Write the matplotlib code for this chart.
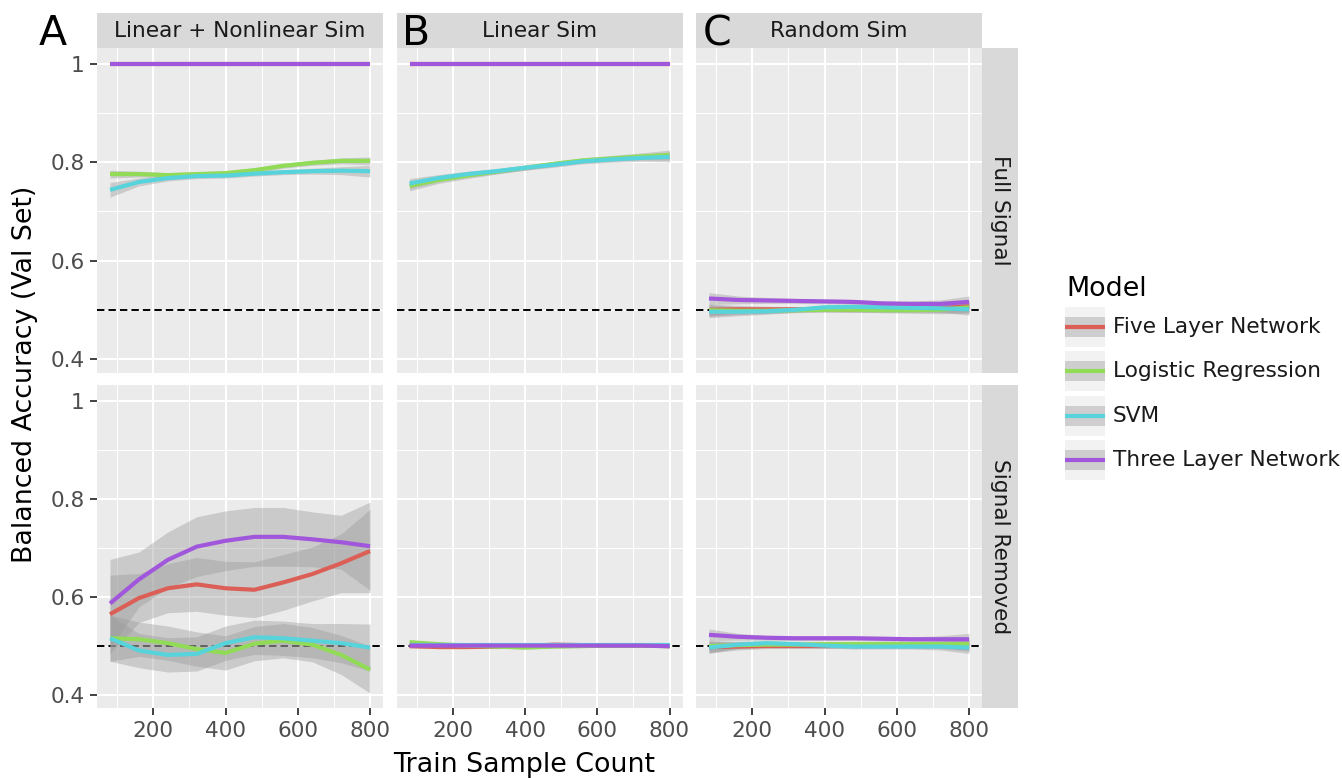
import numpy as np
import matplotlib.pyplot as plt
from matplotlib.patches import Rectangle

plt.rcParams['font.family'] = 'DejaVu Sans'

## DATA ##
train_n = [80, 160, 240, 320, 400, 480, 560, 640, 720, 800]
models = ["Five Layer Network", "Logistic Regression", "SVM", "Three Layer Network"]
colors = ["#DB5F57", "#91DB57", "#57D3DB", "#A157DB"]
sims = ["Linear + Nonlinear Sim", "Linear Sim", "Random Sim"]
signals = ["Full Signal", "Signal Removed"]
panel_tags = ["A", "B", "C"]

# Full Signal rows (mean accuracy per model, then ribbon half width)
full_linnon = {
    "Five Layer Network": [1.0, 1.0, 1.0, 1.0, 1.0, 1.0, 1.0, 1.0, 1.0, 1.0],
    "Logistic Regression": [0.776, 0.776, 0.774, 0.776, 0.778, 0.784, 0.793, 0.799, 0.803, 0.803],
    "SVM": [0.744, 0.760, 0.768, 0.772, 0.773, 0.777, 0.780, 0.782, 0.783, 0.782],
    "Three Layer Network": [1.0, 1.0, 1.0, 1.0, 1.0, 1.0, 1.0, 1.0, 1.0, 1.0],
}
full_linnon_se = {
    "Five Layer Network": [0, 0, 0, 0, 0, 0, 0, 0, 0, 0],
    "Logistic Regression": [0.008, 0.006, 0.005, 0.005, 0.005, 0.005, 0.005, 0.005, 0.006, 0.008],
    "SVM": [0.015, 0.008, 0.006, 0.005, 0.005, 0.005, 0.005, 0.006, 0.008, 0.012],
    "Three Layer Network": [0, 0, 0, 0, 0, 0, 0, 0, 0, 0],
}

full_lin = {
    "Five Layer Network": [1.0, 1.0, 1.0, 1.0, 1.0, 1.0, 1.0, 1.0, 1.0, 1.0],
    "Logistic Regression": [0.752, 0.764, 0.773, 0.781, 0.789, 0.797, 0.804, 0.808, 0.812, 0.815],
    "SVM": [0.757, 0.768, 0.776, 0.782, 0.789, 0.795, 0.802, 0.806, 0.809, 0.811],
    "Three Layer Network": [1.0, 1.0, 1.0, 1.0, 1.0, 1.0, 1.0, 1.0, 1.0, 1.0],
}
full_lin_se = {
    "Five Layer Network": [0, 0, 0, 0, 0, 0, 0, 0, 0, 0],
    "Logistic Regression": [0.010, 0.007, 0.006, 0.005, 0.005, 0.005, 0.005, 0.006, 0.007, 0.010],
    "SVM": [0.010, 0.007, 0.006, 0.005, 0.005, 0.005, 0.005, 0.006, 0.007, 0.010],
    "Three Layer Network": [0, 0, 0, 0, 0, 0, 0, 0, 0, 0],
}

full_rand = {
    "Five Layer Network": [0.500, 0.501, 0.501, 0.501, 0.501, 0.500, 0.500, 0.501, 0.503, 0.507],
    "Logistic Regression": [0.499, 0.498, 0.498, 0.499, 0.500, 0.500, 0.499, 0.499, 0.500, 0.505],
    "SVM": [0.496, 0.496, 0.497, 0.500, 0.505, 0.506, 0.505, 0.504, 0.503, 0.501],
    "Three Layer Network": [0.523, 0.520, 0.519, 0.518, 0.517, 0.516, 0.513, 0.512, 0.512, 0.516],
}
full_rand_se = {
    "Five Layer Network": [0.012, 0.008, 0.006, 0.005, 0.005, 0.005, 0.005, 0.006, 0.008, 0.012],
    "Logistic Regression": [0.012, 0.008, 0.006, 0.005, 0.005, 0.005, 0.005, 0.006, 0.008, 0.012],
    "SVM": [0.012, 0.008, 0.006, 0.005, 0.005, 0.005, 0.005, 0.006, 0.008, 0.012],
    "Three Layer Network": [0.012, 0.008, 0.006, 0.005, 0.005, 0.005, 0.005, 0.006, 0.008, 0.012],
}

# Signal Removed rows
rem_linnon = {
    "Five Layer Network": [0.564, 0.597, 0.617, 0.625, 0.617, 0.614, 0.629, 0.646, 0.668, 0.693],
    "Logistic Regression": [0.515, 0.513, 0.505, 0.493, 0.485, 0.504, 0.510, 0.502, 0.481, 0.451],
    "SVM": [0.515, 0.490, 0.481, 0.483, 0.505, 0.517, 0.515, 0.510, 0.505, 0.496],
    "Three Layer Network": [0.586, 0.635, 0.675, 0.702, 0.714, 0.722, 0.722, 0.717, 0.711, 0.703],
}
rem_linnon_se = {
    "Five Layer Network": [0.080, 0.050, 0.050, 0.055, 0.055, 0.057, 0.057, 0.055, 0.060, 0.085],
    "Logistic Regression": [0.047, 0.035, 0.035, 0.035, 0.035, 0.035, 0.035, 0.035, 0.040, 0.048],
    "SVM": [0.047, 0.035, 0.035, 0.035, 0.035, 0.035, 0.035, 0.035, 0.040, 0.048],
    "Three Layer Network": [0.090, 0.056, 0.057, 0.061, 0.061, 0.060, 0.060, 0.056, 0.055, 0.090],
}

rem_lin = {
    "Five Layer Network": [0.499, 0.497, 0.497, 0.498, 0.499, 0.502, 0.501, 0.500, 0.500, 0.499],
    "Logistic Regression": [0.507, 0.503, 0.500, 0.498, 0.496, 0.498, 0.499, 0.500, 0.500, 0.500],
    "SVM": [0.501, 0.501, 0.501, 0.501, 0.501, 0.501, 0.501, 0.501, 0.501, 0.501],
    "Three Layer Network": [0.500, 0.500, 0.500, 0.500, 0.500, 0.500, 0.500, 0.500, 0.500, 0.499],
}
rem_lin_se = {
    "Five Layer Network": [0.004, 0.003, 0.003, 0.003, 0.003, 0.003, 0.003, 0.003, 0.003, 0.004],
    "Logistic Regression": [0.004, 0.003, 0.003, 0.003, 0.003, 0.003, 0.003, 0.003, 0.003, 0.004],
    "SVM": [0.004, 0.003, 0.003, 0.003, 0.003, 0.003, 0.003, 0.003, 0.003, 0.004],
    "Three Layer Network": [0.004, 0.003, 0.003, 0.003, 0.003, 0.003, 0.003, 0.003, 0.003, 0.004],
}

rem_rand = {
    "Five Layer Network": [0.497, 0.498, 0.499, 0.499, 0.499, 0.500, 0.500, 0.500, 0.501, 0.501],
    "Logistic Regression": [0.499, 0.501, 0.502, 0.502, 0.503, 0.503, 0.503, 0.503, 0.503, 0.503],
    "SVM": [0.496, 0.502, 0.505, 0.503, 0.500, 0.498, 0.498, 0.498, 0.498, 0.496],
    "Three Layer Network": [0.522, 0.518, 0.516, 0.515, 0.515, 0.515, 0.514, 0.513, 0.513, 0.513],
}
rem_rand_se = {
    "Five Layer Network": [0.012, 0.007, 0.005, 0.005, 0.005, 0.005, 0.005, 0.005, 0.007, 0.012],
    "Logistic Regression": [0.012, 0.007, 0.005, 0.005, 0.005, 0.005, 0.005, 0.005, 0.007, 0.012],
    "SVM": [0.012, 0.007, 0.005, 0.005, 0.005, 0.005, 0.005, 0.005, 0.007, 0.012],
    "Three Layer Network": [0.012, 0.007, 0.005, 0.005, 0.005, 0.005, 0.005, 0.005, 0.007, 0.012],
}

panel_data = [[(full_linnon, full_linnon_se), (full_lin, full_lin_se), (full_rand, full_rand_se)],
              [(rem_linnon, rem_linnon_se), (rem_lin, rem_lin_se), (rem_rand, rem_rand_se)]]

#############################
#          LAYOUT           #
#############################
W, H = 1342, 778
fig = plt.figure(figsize=(W / 100, H / 100), dpi=100)

def box(x0, y0, x1, y1):
    # pixel box (top-left origin) -> figure fraction rect
    return [x0 / W, 1 - y1 / H, (x1 - x0) / W, (y1 - y0) / H]

col_x = [(97, 383), (396.5, 682.5), (696, 982)]
row_y = [(48.3, 372.7), (385, 708.3)]

strip_bg = "#D9D9D9"
text_dark = "#1A1A1A"
tick_fs = 15.6
title_fs = 19.4

for r in range(2):
    for c in range(3):
        x0, x1 = col_x[c]
        y0, y1 = row_y[r]
        ax = fig.add_axes(box(x0, y0, x1, y1))
        ax.set_facecolor("#EBEBEB")
        for s in ax.spines.values():
            s.set_visible(False)
        ax.set_axisbelow(True)

        ax.set_xlim(44, 836)
        ax.set_ylim(0.372, 1.032)
        ax.set_xticks([200, 400, 600, 800])
        ax.set_xticks([100, 300, 500, 700], minor=True)
        ax.set_yticks([0.4, 0.6, 0.8, 1.0])
        ax.set_yticklabels(["0.4", "0.6", "0.8", "1"])
        ax.set_yticks([0.5, 0.7, 0.9], minor=True)
        ax.grid(which="major", color="white", lw=1.45)
        ax.grid(which="minor", color="white", lw=0.75)
        ax.tick_params(which="minor", length=0)
        ax.tick_params(which="major", labelsize=tick_fs, labelcolor="#4D4D4D",
                       color="#333333", length=4.9, width=1.3, pad=4)
        if c > 0:
            ax.tick_params(axis="y", left=False, labelleft=False)
        if r == 0:
            ax.tick_params(axis="x", bottom=False, labelbottom=False)

        ax.axhline(0.5, color="black", lw=1.4, ls=(0, (3.8, 2.1)), zorder=2)

        means, ses = panel_data[r][c]
        for m, col in zip(models, colors):
            y = np.array(means[m])
            se = np.array(ses[m])
            ax.fill_between(train_n, y - se, y + se, color="#999999", alpha=0.4,
                            lw=0, zorder=3)
            ax.plot(train_n, y, color=col, lw=3.0, zorder=4, solid_capstyle="butt")

        # top strips
        if r == 0:
            sax = fig.add_axes(box(x0, 13.3, x1, 48.3))
            sax.set_facecolor(strip_bg)
            sax.set_xticks([]); sax.set_yticks([])
            for s in sax.spines.values():
                s.set_visible(False)
            sax.text(0.5, 0.5, sims[c], ha="center", va="center",
                     fontsize=tick_fs, color=text_dark, transform=sax.transAxes)
        # right strips
        if c == 2:
            rax = fig.add_axes(box(982, y0, 1018.3, y1))
            rax.set_facecolor(strip_bg)
            rax.set_xticks([]); rax.set_yticks([])
            for s in rax.spines.values():
                s.set_visible(False)
            rax.text(0.5, 0.5, signals[r], ha="center", va="center", rotation=-90,
                     fontsize=tick_fs, color=text_dark, transform=rax.transAxes)

# panel letters
for tag, xp in zip(panel_tags, [39, 402, 703]):
    fig.text(xp / W, 1 - 45 / H, tag, fontsize=29.6, color="black",
             ha="left", va="baseline")

# axis titles
fig.text(25 / W, 1 - 374 / H, "Balanced Accuracy (Val Set)", rotation=90,
         ha="center", va="center", fontsize=title_fs, color="black")
fig.text(524 / W, 1 - 765 / H, "Train Sample Count",
         ha="center", va="center", fontsize=title_fs, color="black")

# legend (drawn by hand, ggplot style)
lg = fig.add_axes([0, 0, 1, 1])
lg.set_xlim(0, W)
lg.set_ylim(H, 0)
lg.axis("off")
lg.text(1066, 289, "Model", fontsize=title_fs, ha="left", va="center", color="black")
key_y = [326.7, 371, 415.5, 460]
for m, col, ky in zip(models, colors, key_y):
    lg.add_patch(Rectangle((1065, ky - 20), 40, 40, color="#F2F2F2", lw=0))
    lg.add_patch(Rectangle((1065, ky - 10), 40, 20, color="#999999", alpha=0.4, lw=0))
    lg.plot([1065, 1105], [ky, ky], color=col, lw=3.0, solid_capstyle="butt")
    lg.text(1113, ky, m, fontsize=tick_fs, ha="left", va="center", color=text_dark)

fig.savefig("out.png", dpi=100)
